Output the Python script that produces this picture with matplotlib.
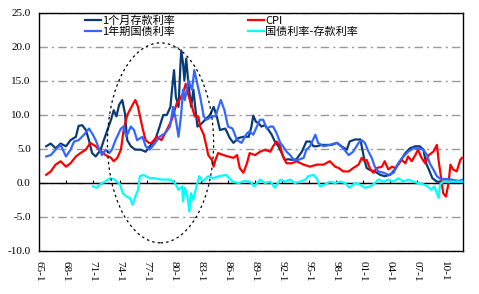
import matplotlib
matplotlib.use("Agg")
import matplotlib.pyplot as plt
from matplotlib.patches import Ellipse

# series (decimal year, percent)
deposit_1m = [(1965.8, 5.4), (1966.3, 5.8), (1966.85, 5.1), (1967.4, 5.8), (1968.0, 5.4), (1968.5, 6.3),
              (1969.1, 6.8), (1969.4, 8.4), (1969.8, 8.5), (1970.2, 7.8), (1970.55, 6.3), (1970.9, 4.4),
              (1971.3, 3.9), (1971.85, 4.9), (1972.2, 6.3), (1972.6, 7.8), (1973.0, 9.3), (1973.3, 10.7),
              (1973.6, 9.8), (1973.9, 11.5), (1974.25, 12.2), (1974.55, 10.2), (1974.8, 6.3), (1975.2, 5.4),
              (1975.7, 4.9), (1976.3, 4.9), (1976.85, 4.6), (1977.3, 5.4), (1977.9, 6.3), (1978.4, 8.3),
              (1978.8, 10.0), (1979.2, 10.0), (1979.6, 11.2), (1979.75, 13.4), (1980.0, 16.6), (1980.2, 12.7),
              (1980.5, 11.2), (1980.7, 17.1), (1980.8, 19.5), (1981.0, 17.6), (1981.15, 15.1), (1981.35, 18.3),
              (1981.6, 14.6), (1981.9, 11.2), (1982.15, 13.7), (1982.35, 11.2), (1982.6, 8.3), (1983.1, 8.8),
              (1983.45, 9.3), (1984.0, 10.0), (1984.4, 11.2), (1984.75, 9.8), (1985.1, 7.8), (1985.7, 8.0),
              (1986.2, 6.6), (1986.6, 5.9), (1987.15, 6.6), (1987.7, 6.8), (1988.3, 6.8), (1988.6, 8.3),
              (1988.8, 9.9), (1989.1, 9.0), (1989.4, 8.8), (1989.7, 8.3), (1990.1, 8.5), (1990.5, 7.8),
              (1990.85, 7.1), (1991.2, 6.1), (1991.6, 5.4), (1991.96, 4.4), (1992.3, 3.4), (1992.7, 3.5),
              (1993.1, 3.4), (1993.6, 3.5), (1994.2, 4.6), (1994.7, 6.1), (1995.1, 6.1), (1995.5, 5.4),
              (1995.85, 5.4), (1996.4, 5.6), (1996.95, 5.6), (1997.5, 5.6), (1998.1, 5.9), (1998.6, 5.4),
              (1999.2, 4.9), (1999.5, 6.1), (2000.1, 6.4), (2000.7, 6.4), (2000.85, 5.4), (2001.15, 3.4),
              (2001.4, 2.2), (2001.8, 1.9), (2002.3, 1.7), (2002.9, 1.2), (2003.4, 1.0), (2004.0, 1.2),
              (2004.55, 2.0), (2005.1, 3.2), (2005.7, 4.4), (2006.2, 5.1), (2006.8, 5.4), (2007.3, 5.4),
              (2007.7, 4.9), (2008.0, 2.9), (2008.3, 2.0), (2008.7, 0.7), (2009.2, 0.2), (2009.7, 0.2),
              (2010.5, 0.2), (2011.2, 0.2), (2012.1, 0.2)]

bond_1y = [(1965.8, 3.9), (1966.3, 4.1), (1966.85, 4.9), (1967.4, 5.6), (1968.0, 3.9), (1968.5, 4.9),
           (1968.9, 6.1), (1969.4, 6.3), (1970.0, 7.1), (1970.55, 8.0), (1970.9, 7.3), (1971.3, 6.3),
           (1971.7, 4.9), (1972.0, 4.1), (1972.4, 4.9), (1972.8, 4.4), (1973.1, 4.9), (1973.5, 6.3),
           (1974.1, 8.0), (1974.4, 8.3), (1974.7, 6.8), (1975.2, 8.3), (1975.55, 7.8), (1975.9, 6.3),
           (1976.5, 6.8), (1976.85, 5.4), (1977.3, 4.9), (1977.9, 5.9), (1978.4, 6.8), (1979.0, 7.3),
           (1979.55, 8.3), (1979.9, 11.2), (1980.2, 9.3), (1980.5, 6.8), (1980.8, 10.2), (1981.0, 13.7),
           (1981.2, 12.2), (1981.6, 15.1), (1982.0, 13.7), (1982.25, 16.6), (1982.5, 15.1), (1982.9, 12.7),
           (1983.3, 9.8), (1983.6, 9.3), (1984.2, 9.8), (1984.6, 9.8), (1985.2, 12.2), (1985.6, 10.7),
           (1986.0, 8.3), (1986.5, 8.0), (1987.0, 6.3), (1987.5, 5.9), (1988.1, 7.3), (1988.4, 7.6),
           (1988.8, 7.1), (1989.2, 8.3), (1989.55, 9.3), (1989.9, 9.3), (1990.3, 8.0), (1990.7, 8.3),
           (1991.0, 8.3), (1991.4, 7.3), (1991.8, 5.9), (1992.1, 5.4), (1992.5, 4.6), (1992.9, 4.1),
           (1993.3, 3.4), (1993.8, 3.4), (1994.4, 3.7), (1994.7, 4.9), (1995.1, 5.4), (1995.7, 7.1),
           (1996.0, 5.9), (1996.6, 5.4), (1997.3, 5.6), (1998.1, 5.9), (1998.8, 5.1), (1999.4, 4.1),
           (1999.9, 4.6), (2000.5, 5.9), (2000.85, 6.3), (2001.2, 5.9), (2001.6, 4.6), (2001.96, 3.7),
           (2002.3, 2.4), (2002.7, 1.7), (2003.3, 1.5), (2003.8, 1.2), (2004.4, 1.5), (2004.9, 2.9),
           (2005.5, 3.9), (2006.0, 4.6), (2006.6, 5.1), (2007.1, 5.1), (2007.7, 4.9), (2008.1, 4.1),
           (2008.4, 2.9), (2008.8, 2.0), (2009.2, 1.0), (2009.6, 0.6), (2010.1, 0.6), (2010.85, 0.5),
           (2011.6, 0.3), (2012.1, 0.5)]

cpi = [(1965.8, 1.2), (1966.3, 1.7), (1966.85, 2.7), (1967.4, 3.2), (1968.0, 2.4), (1968.5, 2.9),
       (1969.1, 3.9), (1969.6, 4.4), (1970.2, 4.9), (1970.7, 5.9), (1971.3, 5.4), (1971.7, 4.9),
       (1972.4, 4.1), (1973.0, 3.7), (1973.3, 3.2), (1973.7, 3.7), (1974.1, 4.9), (1974.4, 7.8),
       (1974.8, 10.0), (1975.4, 11.5), (1975.7, 12.2), (1976.0, 11.2), (1976.3, 9.3), (1976.55, 7.8),
       (1976.85, 6.3), (1977.2, 5.9), (1977.5, 5.9), (1978.1, 6.8), (1978.6, 6.3), (1979.2, 7.8),
       (1979.75, 9.3), (1980.3, 11.7), (1980.7, 12.4), (1981.0, 13.2), (1981.3, 14.6), (1981.6, 12.9),
       (1982.0, 11.2), (1982.3, 9.8), (1982.7, 9.8), (1982.9, 8.3), (1983.3, 7.1), (1983.6, 5.4),
       (1983.8, 4.1), (1984.2, 3.4), (1984.4, 2.4), (1984.6, 3.4), (1984.9, 4.4), (1985.5, 4.1),
       (1986.0, 3.9), (1986.6, 3.7), (1987.0, 4.1), (1987.3, 2.2), (1987.7, 1.5), (1988.1, 2.9),
       (1988.4, 4.4), (1989.0, 4.1), (1989.55, 4.6), (1990.1, 4.9), (1990.7, 4.6), (1991.0, 5.4),
       (1991.4, 6.1), (1991.8, 5.4), (1992.1, 3.9), (1992.5, 2.9), (1993.1, 2.9), (1993.6, 3.2),
       (1994.4, 2.7), (1995.1, 2.4), (1995.85, 2.7), (1996.6, 2.7), (1997.3, 3.2), (1997.9, 2.4),
       (1998.3, 2.2), (1998.8, 1.7), (1999.4, 1.7), (1999.9, 2.2), (2000.5, 2.7), (2000.85, 3.7),
       (2001.15, 3.2), (2001.4, 3.4), (2001.8, 2.0), (2002.15, 1.5), (2002.5, 2.2), (2003.1, 2.4),
       (2003.4, 3.2), (2003.8, 2.0), (2004.2, 2.4), (2004.55, 2.2), (2004.9, 2.7), (2005.3, 3.4),
       (2005.7, 2.9), (2006.0, 3.9), (2006.4, 3.2), (2006.8, 4.1), (2007.1, 4.9), (2007.5, 3.7),
       (2007.9, 2.9), (2008.3, 4.1), (2008.8, 4.6), (2009.2, 5.6), (2009.4, 3.2), (2009.7, 0.5),
       (2009.9, -1.5), (2010.2, -2.0), (2010.5, 0.0), (2010.7, 2.7), (2011.0, 2.0), (2011.4, 1.7),
       (2011.8, 3.4), (2012.0, 3.7)]

spread = [(1971.0, -0.5), (1971.4, -0.7), (1971.8, -0.2), (1972.3, 0.2), (1972.9, 0.7), (1973.4, 0.5),
          (1974.0, -0.2), (1974.3, -1.5), (1974.7, -2.0), (1975.1, -2.2), (1975.4, -3.2), (1975.7, -2.0),
          (1976.0, -1.0), (1976.2, 1.0), (1976.6, 1.2), (1977.3, 0.7), (1977.9, 0.7), (1978.6, 0.5),
          (1979.6, 0.5), (1980.1, 0.0), (1980.5, -1.0), (1980.9, -0.5), (1981.0, -2.7), (1981.2, -0.7),
          (1981.5, -2.0), (1981.7, -4.2), (1981.9, -1.5), (1982.1, -2.5), (1982.5, -0.5), (1982.8, 1.0),
          (1983.2, 0.2), (1983.8, 1.0), (1984.3, 0.7), (1985.0, 1.0), (1985.8, 1.2), (1986.5, 0.2),
          (1987.2, 0.0), (1987.8, 0.3), (1988.44, 0.2), (1988.9, -0.5), (1989.55, 0.5), (1990.1, 0.0),
          (1990.7, 0.2), (1991.2, -0.7), (1991.8, 0.5), (1992.3, 0.2), (1992.9, 0.5), (1993.4, 0.0),
          (1994.0, 0.2), (1994.6, 0.5), (1994.9, 1.0), (1995.5, 1.2), (1995.85, 0.7), (1996.2, -0.5),
          (1996.8, -0.2), (1997.3, 0.2), (1997.9, 0.0), (1998.4, 0.2), (1999.0, 0.0), (1999.5, -0.7),
          (2000.1, 0.0), (2000.6, -0.2), (2001.2, -0.7), (2001.8, -0.5), (2002.3, 0.0), (2002.7, 0.5),
          (2003.3, 0.2), (2003.8, 0.5), (2004.4, 0.2), (2004.9, 0.7), (2005.5, 0.2), (2006.0, 0.5),
          (2006.6, 0.2), (2007.1, 0.0), (2007.7, -0.2), (2008.2, -0.5), (2008.55, -1.0), (2008.9, -0.5),
          (2009.2, -1.5), (2009.4, -2.2), (2009.55, -0.2), (2009.9, 0.2), (2010.5, 0.2), (2011.2, 0.2),
          (2012.1, 0.2)]

tick_years = [1965, 1968, 1971, 1974, 1977, 1980, 1983, 1986, 1989, 1992, 1995, 1998, 2001, 2004, 2007, 2010]
tick_labels = ['65-1', '68-1', '71-1', '74-1', '77-1', '80-1', '83-1', '86-1',
               '89-1', '92-1', '95-1', '98-1', '01-1', '04-1', '07-1', '10-1']
y_ticks = [-10, -5, 0, 5, 10, 15, 20, 25]

names = ['1个月存款利率', 'CPI', '1年期国债利率', '国债利率-存款利率']
colors = ['#0B3B73', '#FF0000', '#3366FF', '#00FFFF']

plt.rcParams['font.family'] = ['Noto Sans CJK SC', 'DejaVu Sans']

fig = plt.figure(figsize=(4.79, 2.94), dpi=100)
ax = fig.add_axes([39 / 479, 1 - 251 / 294, 424 / 479, 238 / 294])

lines = []
for series, name, c in zip([deposit_1m, cpi, bond_1y, spread], names, colors):
    xs = [p[0] for p in series]
    ys = [p[1] for p in series]
    ln, = ax.plot(xs, ys, color=c, lw=1.6, label=name, zorder=3)
    lines.append(ln)

ax.add_patch(Ellipse((1978.5, 5.9), 11.8, 29.4, fill=False, ec='black',
                     lw=0.9, ls=(0, (2, 2.5)), zorder=4))

ax.set_xlim(1965, 2012.1)
ax.set_ylim(-10, 25)
ax.set_yticks(y_ticks)
ax.set_yticklabels(['%.1f' % v for v in y_ticks], family='Liberation Serif', fontsize=8)
ax.set_xticks(tick_years)
ax.set_xticklabels(tick_labels, rotation=270, family='Liberation Serif', fontsize=8, va='top')
ax.tick_params(axis='both', length=0)
ax.tick_params(axis='x', pad=7)
ax.tick_params(axis='y', pad=6)

ax.yaxis.grid(True, color='#999999', lw=1, ls=(0, (6, 3, 1.5, 3)), zorder=1)
ax.axhline(0, color='black', lw=1, zorder=2)
ax.vlines(tick_years, 0, 0.45, color='black', lw=0.8, zorder=2)
for s in ax.spines.values():
    s.set_linewidth(1)
    s.set_color('black')

ax.legend([lines[0], lines[2], lines[1], lines[3]],
          [names[0], names[2], names[1], names[3]],
          ncol=2, frameon=False, loc='upper left', bbox_to_anchor=(0.108, 0.99),
          borderpad=0, borderaxespad=0, fontsize=8, handlelength=1.5,
          handletextpad=0.1, columnspacing=6.5, labelspacing=0.05)

fig.savefig('out.png', dpi=100)
